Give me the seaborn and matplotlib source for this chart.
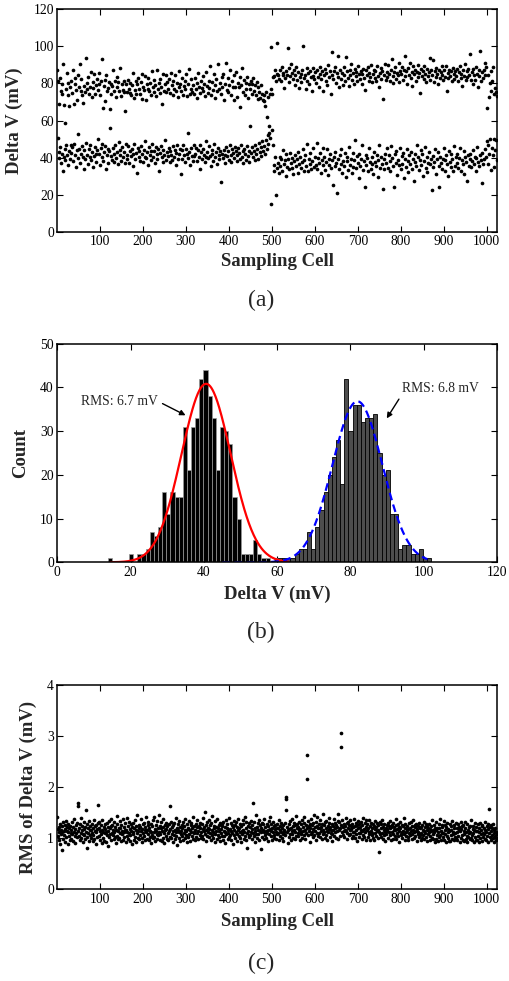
import numpy as np
import pandas as pd
import seaborn as sns
import matplotlib
matplotlib.use("Agg")
import matplotlib.pyplot as plt

# ---- (a) Delta V per sampling cell, tenths of mV ----
# upper level (odd cells 1,3,5,...)
dv_high = [
    875, 812, 690, 828, 760, 797, 745, 905, 683, 585, 770, 858, 735, 802, 676, 779,
    815, 748, 870, 690, 795, 832, 762, 712, 848, 780, 905, 758, 823, 740, 692, 786,
    752, 935, 801, 768, 835, 745, 779, 861, 728, 806, 773, 852, 741, 790, 826, 763,
    857, 798, 735, 812, 930, 668, 784, 820, 706, 843, 759, 775, 810, 662, 797, 742,
    788, 872, 759, 813, 726, 780, 835, 808, 759, 884, 730, 795, 766, 812, 752, 649,
    796, 752, 821, 770, 748, 805, 736, 789, 858, 724, 767, 812, 741, 795, 830, 771,
    744, 809, 718, 852, 783, 762, 839, 710, 795, 771, 832, 758, 804, 735, 865, 782,
    753, 818, 790, 730, 872, 768, 805, 746, 822, 779, 689, 851, 761, 796, 843, 752,
    809, 770, 826, 748, 857, 790, 735, 815, 770, 846, 758, 802, 727, 783, 868, 795,
    761, 827, 740, 788, 815, 768, 852, 733, 798, 880, 745, 772, 825, 756, 791, 742,
    830, 768, 800, 721, 857, 779, 746, 812, 773, 839, 760, 795, 731, 861, 788, 747,
    815, 775, 893, 740, 806, 766, 849, 722, 790, 826, 759, 905, 768, 803, 742, 833,
    779, 850, 711, 796, 908, 765, 828, 752, 794, 870, 736, 812, 779, 846, 709, 783,
    862, 725, 801, 780, 837, 672, 791, 884, 756, 818, 740, 803, 768, 835, 719, 796,
    770, 812, 745, 798, 832, 760, 790, 739, 806, 716, 782, 754, 721, 790, 745, 712,
    706, 738, 681, 752, 620, 729, 571, 742, 995, 768, 744, 835, 842, 870, 813, 852,
    1020, 848, 826, 871, 812, 890, 843, 859, 778, 827, 868, 845, 990, 806, 882, 838,
    905, 857, 822, 870, 793, 844, 890, 817, 862, 776, 835, 851, 809, 873, 1000, 829,
    846, 770, 812, 882, 854, 795, 868, 837, 758, 841, 885, 822, 860, 802, 874, 835,
    780, 851, 890, 825, 868, 759, 843, 876, 812, 856, 790, 897, 833, 866, 745, 848,
    970, 822, 865, 891, 803, 857, 835, 946, 781, 870, 824, 859, 791, 888, 847, 812,
    945, 866, 829, 788, 871, 843, 906, 818, 859, 795, 880, 838, 862, 812, 893, 851,
    824, 868, 797, 853, 880, 832, 764, 870, 844, 891, 815, 858, 836, 902, 806, 849,
    873, 828, 865, 811, 892, 842, 779, 858, 884, 823, 866, 717, 847, 905, 817, 860,
    836, 897, 852, 813, 871, 930, 840, 801, 862, 887, 825, 859, 843, 910, 806, 868,
    852, 889, 821, 874, 948, 838, 865, 799, 881, 845, 912, 827, 860, 784, 893, 849,
    870, 814, 863, 901, 835, 856, 749, 879, 842, 868, 826, 895, 851, 810, 876, 838,
    862, 940, 819, 872, 845, 925, 808, 866, 837, 884, 853, 799, 870, 829, 861, 894,
    846, 818, 873, 836, 892, 758, 858, 827, 875, 841, 866, 812, 884, 850, 823, 869,
    838, 876, 811, 862, 896, 829, 851, 785, 871, 842, 906, 819, 866, 833, 880, 848,
    958, 821, 862, 795, 876, 845, 818, 889, 852, 780, 870, 838, 975, 814, 861, 832,
    870, 910, 843, 888, 670, 845, 726, 803, 868, 760, 812, 889, 745, 778, 756, 734,
]
# lower level (even cells 2,4,6,...)
dv_low = [
    505, 432, 398, 455, 372, 418, 330, 402, 446, 385, 470, 412, 360, 438, 392, 466,
    425, 458, 381, 472, 415, 350, 439, 527, 396, 448, 372, 420, 462, 405, 338, 441,
    395, 478, 413, 365, 449, 402, 470, 388, 432, 347, 411, 459, 421, 376, 443, 498,
    418, 360, 452, 405, 475, 382, 429, 465, 340, 412, 448, 372, 437, 558, 409, 387,
    453, 421, 375, 467, 398, 432, 365, 485, 413, 442, 380, 456, 402, 428, 369, 471,
    412, 395, 460, 373, 437, 408, 447, 355, 419, 472, 392, 426, 315, 451, 404, 438,
    384, 465, 418, 377, 441, 403, 489, 396, 428, 362, 455, 414, 437, 389, 472, 402,
    433, 371, 459, 418, 395, 447, 330, 425, 463, 402, 378, 441, 412, 496, 386, 430,
    408, 452, 374, 436, 415, 388, 462, 405, 440, 359, 427, 470, 393, 421, 448, 310,
    439, 392, 468, 414, 376, 445, 421, 532, 398, 430, 362, 452, 411, 383, 469, 406,
    421, 454, 383, 439, 405, 470, 341, 428, 392, 446, 413, 375, 487, 404, 432, 397,
    463, 408, 352, 441, 419, 384, 475, 402, 429, 368, 450, 412, 395, 437, 270, 421,
    398, 442, 415, 371, 458, 406, 433, 389, 467, 412, 378, 448, 425, 399, 455, 436,
    413, 381, 452, 427, 395, 468, 404, 437, 372, 446, 419, 388, 461, 409, 433, 378,
    572, 426, 459, 401, 437, 385, 468, 419, 446, 392, 478, 428, 455, 410, 487, 436,
    462, 418, 495, 447, 520, 475, 532, 508, 150, 548, 467, 330, 360, 405, 200, 345,
    372, 318, 405, 356, 392, 328, 441, 367, 385, 302, 418, 350, 395, 337, 425, 371,
    342, 398, 310, 380, 415, 355, 392, 318, 432, 366, 401, 345, 378, 447, 330, 389,
    412, 356, 472, 327, 395, 368, 426, 338, 381, 452, 349, 405, 362, 480, 336, 397,
    370, 425, 316, 388, 452, 359, 402, 335, 378, 445, 305, 394, 361, 418, 342, 386,
    250, 401, 357, 428, 373, 210, 390, 338, 412, 365, 446, 317, 384, 352, 425, 293,
    379, 405, 332, 458, 361, 395, 317, 426, 350, 388, 495, 342, 408, 371, 288, 419,
    356, 392, 470, 335, 381, 243, 415, 362, 398, 327, 452, 374, 341, 405, 366, 312,
    431, 378, 352, 412, 297, 387, 468, 345, 402, 365, 228, 394, 338, 421, 373, 452,
    345, 412, 382, 327, 463, 398, 354, 240, 418, 372, 436, 305, 389, 358, 451, 337,
    406, 368, 425, 292, 395, 348, 447, 381, 320, 413, 365, 430, 338, 392, 276, 421,
    377, 353, 466, 402, 332, 389, 441, 360, 418, 298, 384, 457, 345, 401, 323, 372,
    432, 367, 395, 224, 411, 350, 378, 445, 312, 392, 428, 356, 240, 402, 372, 338,
    395, 451, 327, 386, 412, 365, 302, 438, 374, 348, 420, 391, 330, 465, 357, 401,
    372, 418, 345, 396, 452, 326, 387, 363, 433, 311, 402, 378, 271, 415, 356, 390,
    420, 348, 382, 441, 367, 402, 330, 396, 458, 374, 352, 413, 385, 262, 427, 368,
    392, 446, 402, 487, 365, 470, 420, 498, 335, 452, 412, 500, 348, 442, 495, 385,
]

# ---- (b) histogram counts, 78 bins of 1.13 mV starting at 13.9 mV ----
hist_low = [
    1, 0, 0, 0, 0, 2, 0, 2, 2, 3, 7, 6, 8, 16, 11, 16, 15, 15, 31, 21,
    31, 33, 42, 44, 38, 33, 21, 31, 30, 27, 15, 10, 2, 2, 2, 5, 2, 1, 1, 0,
    1, 0, 0, 0, 0, 0, 0, 0, 0, 0, 0, 0, 0, 0, 0, 0, 0, 0, 0, 0,
    0, 0, 0, 0, 0, 0, 0, 0, 0, 0, 0, 0, 0, 0, 0, 0, 0, 0,
]
hist_high = [
    0, 0, 0, 0, 0, 0, 0, 0, 0, 0, 0, 0, 0, 0, 0, 0, 0, 0, 0, 0,
    0, 0, 0, 0, 0, 0, 0, 0, 0, 0, 0, 0, 0, 0, 0, 0, 0, 0, 0, 0,
    0, 1, 1, 1, 1, 2, 3, 3, 7, 3, 8, 12, 16, 20, 24, 28, 18, 42, 30, 36,
    36, 32, 33, 33, 34, 25, 20, 21, 11, 11, 3, 4, 4, 2, 2, 3, 1, 1,
]
bin_start, bin_width = 13.9, 1.13
# gaussian fits: mean, rms, peak height
fit_low = (40.6, 6.7, 40.8)
fit_high = (81.9, 6.8, 36.8)

# ---- (c) RMS of Delta V per sampling cell, hundredths of mV ----
rms_dv = [
    142, 118, 105, 121, 96, 113, 128, 88, 117, 109, 124, 76, 112, 131, 99, 115,
    107, 126, 93, 118, 134, 102, 115, 121, 89, 112, 127, 104, 119, 96, 123, 110,
    116, 99, 131, 108, 122, 94, 113, 137, 105, 118, 91, 125, 110, 103, 129, 114,
    168, 163, 104, 120, 97, 128, 111, 139, 100, 116, 123, 92, 109, 132, 118, 106,
    121, 98, 155, 113, 102, 127, 80, 110, 119, 134, 95, 116, 106, 124, 101, 117,
    111, 128, 94, 120, 107, 135, 99, 115, 123, 88, 112, 126, 103, 118, 130, 165,
    104, 119, 132, 97, 114, 108, 125, 91, 117, 136, 100, 113, 122, 95, 110, 127,
    118, 93, 112, 129, 106, 121, 84, 115, 133, 102, 119, 109, 124, 97, 138, 111,
    125, 107, 116, 98, 131, 113, 103, 122, 90, 117, 128, 105, 143, 99, 114, 120,
    101, 134, 110, 119, 94, 126, 115, 108, 137, 96, 121, 112, 103, 129, 117, 92,
    116, 105, 140, 113, 99, 123, 110, 131, 95, 118, 106, 127, 114, 88, 121, 108,
    129, 112, 97, 120, 135, 103, 117, 92, 124, 111, 146, 100, 115, 126, 98, 119,
    106, 122, 114, 137, 101, 118, 93, 127, 110, 104, 130, 116, 96, 121, 113, 142,
    117, 99, 125, 108, 132, 96, 119, 114, 102, 128, 91, 113, 123, 107, 136, 100,
    112, 141, 103, 118, 95, 126, 115, 109, 134, 99, 120, 106, 145, 113, 97, 124,
    108, 119, 131, 94, 114, 122, 101, 137, 111, 90, 125, 116, 104, 129, 118, 98,
    123, 110, 96, 127, 115, 103, 163, 118, 132, 100, 121, 109, 93, 126, 114, 107,
    130, 98, 117, 112, 139, 105, 120, 86, 116, 128, 101, 113, 134, 95, 122, 109,
    114, 126, 104, 119, 97, 131, 111, 123, 100, 117, 138, 106, 115, 92, 127, 118,
    102, 120, 133, 108, 116, 94, 125, 112, 129, 105, 119, 99, 141, 113, 110, 124,
    96, 117, 128, 103, 121, 110, 135, 98, 115, 124, 65, 119, 107, 130, 113, 101,
    127, 105, 118, 140, 99, 114, 122, 151, 109, 126, 95, 117, 131, 104, 120, 112,
    118, 136, 103, 125, 111, 97, 129, 116, 106, 143, 113, 100, 124, 119, 92, 133,
    109, 121, 114, 98, 137, 107, 119, 126, 102, 115, 130, 94, 118, 111, 128, 105,
    124, 96, 131, 115, 104, 122, 90, 113, 135, 108, 119, 127, 99, 116, 110, 140,
    103, 118, 107, 129, 97, 114, 125, 111, 89, 121, 133, 106, 117, 100, 126, 112,
    131, 109, 122, 95, 117, 138, 104, 119, 113, 127, 101, 92, 124, 115, 108, 135,
    116, 128, 99, 112, 142, 105, 120, 97, 131, 110, 81, 123, 114, 106, 129, 102,
    107, 121, 113, 134, 98, 118, 126, 168, 111, 104, 132, 115, 93, 120, 109, 145,
    122, 100, 117, 129, 108, 136, 96, 114, 125, 112, 79, 119, 130, 103, 116, 127,
    99, 113, 138, 106, 121, 115, 101, 128, 110, 124, 94, 117, 133, 109, 142, 118,
    114, 127, 104, 119, 96, 112, 131, 107, 123, 100, 118, 126, 113, 98, 120, 109,
    128, 111, 120, 97, 135, 116, 105, 124, 112, 130, 101, 119, 108, 125, 94, 117,
    113, 106, 129, 180, 176, 155, 112, 121, 90, 116, 103, 127, 118, 109, 133, 96,
    120, 137, 108, 115, 124, 101, 130, 117, 99, 126, 112, 144, 105, 119, 128, 110,
    104, 122, 116, 131, 97, 118, 109, 127, 113, 136, 100, 121, 115, 107, 129, 142,
    117, 99, 126, 111, 262, 215, 120, 134, 106, 123, 114, 128, 93, 119, 137, 108,
    125, 113, 102, 130, 118, 145, 107, 121, 115, 96, 132, 110, 124, 141, 104, 119,
    111, 128, 119, 103, 136, 114, 122, 99, 127, 117, 108, 147, 113, 125, 101, 131,
    120, 106, 134, 115, 97, 124, 112, 129, 118, 139, 103, 121, 111, 116, 94, 127,
    109, 123, 116, 138, 105, 119, 130, 112, 101, 126, 114, 122, 133, 98, 148, 117,
    131, 104, 119, 125, 305, 278, 113, 136, 121, 107, 128, 115, 102, 124, 117, 139,
    114, 129, 111, 98, 132, 120, 106, 126, 116, 135, 109, 123, 118, 100, 127, 112,
    105, 121, 138, 113, 124, 101, 130, 117, 109, 126, 95, 119, 134, 111, 103, 128,
    122, 110, 116, 131, 99, 125, 114, 107, 140, 118, 103, 129, 112, 121, 97, 135,
    117, 128, 102, 119, 113, 136, 108, 124, 96, 115, 130, 111, 120, 106, 127, 101,
    124, 97, 118, 133, 110, 121, 105, 129, 114, 100, 126, 117, 72, 112, 131, 108,
    103, 119, 127, 111, 135, 98, 122, 116, 107, 128, 113, 94, 120, 109, 125, 118,
    115, 129, 101, 124, 112, 119, 133, 106, 121, 97, 126, 113, 108, 130, 99, 117,
    121, 104, 116, 137, 99, 125, 110, 118, 128, 105, 114, 122, 93, 119, 131, 107,
    109, 126, 113, 100, 123, 115, 140, 108, 119, 96, 127, 112, 104, 117, 124, 102,
    118, 97, 129, 111, 106, 120, 114, 131, 99, 123, 108, 116, 136, 101, 112, 126,
    104, 122, 115, 127, 95, 118, 109, 124, 113, 102, 130, 107, 119, 97, 121, 111,
    125, 100, 117, 106, 132, 114, 98, 121, 110, 128, 103, 116, 94, 123, 108, 119,
    112, 127, 96, 118, 105, 124, 115, 101, 135, 109, 117, 99, 126, 113, 93, 120,
    98, 116, 131, 107, 120, 94, 113, 128, 102, 119, 137, 106, 114, 97, 125, 110,
    122, 103, 111, 133, 97, 126, 108, 116, 93, 121, 104, 130, 112, 100, 118, 95,
    115, 128, 94, 117, 106, 123, 134, 99, 113, 108, 125, 96, 119, 111, 102, 129,
    101, 119, 112, 97, 127, 105, 116, 122, 92, 114, 131, 100, 118, 107, 124, 96,
    126, 94, 115, 109, 120, 131, 98, 113, 105, 128, 93, 117, 102, 121, 110, 99,
    112, 123, 100, 135, 106, 97, 118, 110, 124, 93, 116, 103, 129, 96, 114, 121,
    97, 115, 127, 104, 119, 112, 92, 130, 101, 117, 108, 123, 95, 126, 111, 103,
    120, 108, 99, 116, 131, 96, 113, 124, 105, 118, 92, 127, 110, 158, 102, 122,
    114, 97, 125, 106, 119, 100, 128, 111, 93, 117, 104, 120, 96, 113, 108, 101,
]

cell_x_ticks = [100, 200, 300, 400, 500, 600, 700, 800, 900, 1000]

sns.set_style("ticks")
plt.rcParams["font.family"] = ["Liberation Serif", "DejaVu Serif"]
plt.rcParams["axes.linewidth"] = 1.1

fig = plt.figure(figsize=(5.09, 9.81), dpi=100)

def style_axes(ax):
    ax.tick_params(direction="in", top=True, right=True, length=4, width=0.8,
                   labelsize=9.8, pad=2.5, colors="black")
    for sp in ax.spines.values():
        sp.set_visible(True)
        sp.set_color("black")

# ---- (a) ----
ax1 = fig.add_axes([0.1126, 0.7638, 0.8639, 0.2267])
cells_high = np.arange(1, 1024, 2)
cells_low = np.arange(2, 1025, 2)
sns.scatterplot(x=cells_high, y=np.array(dv_high) / 10, s=7, color="black",
                linewidth=0, ax=ax1)
sns.scatterplot(x=cells_low, y=np.array(dv_low) / 10, s=7, color="black",
                linewidth=0, ax=ax1)
ax1.set_xlim(1, 1024)
ax1.set_ylim(0, 120)
ax1.set_xticks(cell_x_ticks)
ax1.set_yticks([0, 20, 40, 60, 80, 100, 120])
ax1.set_xlabel("Sampling Cell", fontsize=13.5, fontweight="bold")
ax1.set_ylabel("Delta V (mV)", fontsize=13.5, fontweight="bold")
ax1.xaxis.set_label_coords(0.5, -0.095)
ax1.yaxis.set_label_coords(-0.078, 0.5)
style_axes(ax1)

# ---- (b) ----
ax2 = fig.add_axes([0.1126, 0.4268, 0.8639, 0.2230])
edges = bin_start + bin_width * np.arange(len(hist_low) + 1)
hist_df = pd.DataFrame({
    "center": (edges[:-1] + edges[1:]) / 2,
    "low": hist_low,
    "high": hist_high,
})
sns.histplot(data=hist_df, x="center", weights="low", bins=edges.tolist(),
             color="black", edgecolor="0.6", linewidth=0.5, alpha=1, ax=ax2)
sns.histplot(data=hist_df, x="center", weights="high", bins=edges.tolist(),
             color="0.3", edgecolor="black", linewidth=0.6, alpha=1, ax=ax2)

m, sd, pk = fit_low
xs = np.linspace(14.5, 63, 300)
ax2.plot(xs, pk * np.exp(-0.5 * ((xs - m) / sd) ** 2), color="red",
         linewidth=1.6)
m, sd, pk = fit_high
xs = np.linspace(45, 101, 300)
ax2.plot(xs, pk * np.exp(-0.5 * ((xs - m) / sd) ** 2), color="#0000ff",
         linewidth=1.6, linestyle=(0, (3.5, 2)))

ax2.annotate("RMS: 6.7 mV", xy=(35.0, 33.6), xytext=(6.5, 36.8),
             fontsize=9.8, ha="left", va="center",
             arrowprops=dict(arrowstyle="-|>", color="black", lw=1,
                             mutation_scale=8, relpos=(1, 0.5), shrinkA=1, shrinkB=0))
ax2.annotate("RMS: 6.8 mV", xy=(89.9, 32.9), xytext=(94.0, 39.8),
             fontsize=9.8, ha="left", va="center",
             arrowprops=dict(arrowstyle="-|>", color="black", lw=1,
                             mutation_scale=8, relpos=(0, 0), shrinkA=1, shrinkB=0))
ax2.set_xlim(0, 120)
ax2.set_ylim(0, 50)
ax2.set_xticks([0, 20, 40, 60, 80, 100, 120])
ax2.set_yticks([0, 10, 20, 30, 40, 50])
ax2.set_xlabel("Delta V (mV)", fontsize=13.5, fontweight="bold")
ax2.set_ylabel("Count", fontsize=13.5, fontweight="bold")
ax2.xaxis.set_label_coords(0.5, -0.105)
ax2.yaxis.set_label_coords(-0.064, 0.5)
style_axes(ax2)

# ---- (c) ----
ax3 = fig.add_axes([0.1126, 0.0935, 0.8639, 0.2083])
cells_all = np.arange(1, len(rms_dv) + 1)
sns.scatterplot(x=cells_all, y=np.array(rms_dv) / 100, s=7, color="black",
                linewidth=0, ax=ax3)
ax3.set_xlim(1, 1024)
ax3.set_ylim(0, 4)
ax3.set_xticks(cell_x_ticks)
ax3.set_yticks([0, 1, 2, 3, 4])
ax3.set_xlabel("Sampling Cell", fontsize=13.5, fontweight="bold")
ax3.set_ylabel("RMS of Delta V (mV)", fontsize=13.5, fontweight="bold")
ax3.xaxis.set_label_coords(0.5, -0.118)
ax3.yaxis.set_label_coords(-0.046, 0.5)
style_axes(ax3)

fig.text(0.513, 1 - 300 / 981, "(a)", fontsize=17, ha="center", va="center")
fig.text(0.513, 1 - 632 / 981, "(b)", fontsize=17, ha="center", va="center")
fig.text(0.513, 1 - 963 / 981, "(c)", fontsize=17, ha="center", va="center")

fig.savefig("out.png", dpi=100)
